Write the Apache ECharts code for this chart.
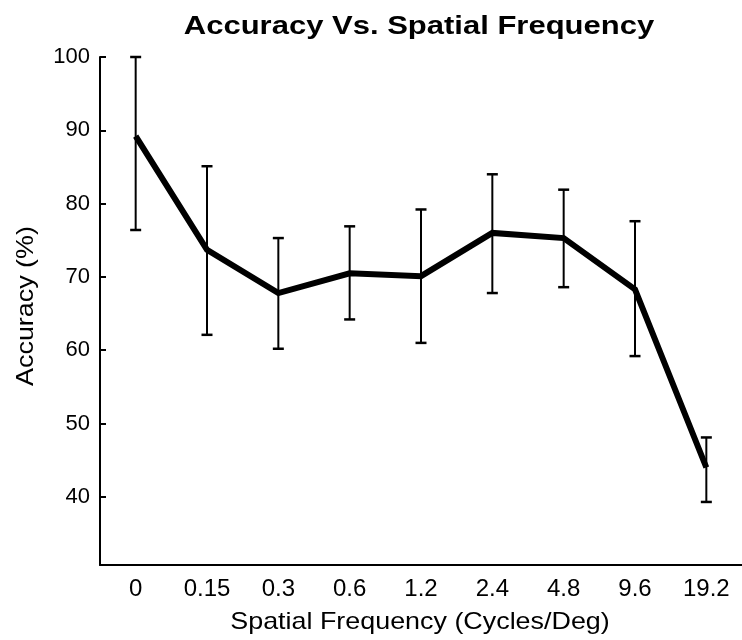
<!DOCTYPE html>
<html>
<head>
<meta charset="utf-8">
<script src="https://cdn.jsdelivr.net/npm/echarts@6/dist/echarts.min.js"></script>
<style>html,body{margin:0;padding:0;background:#fff;}#c{width:742px;height:640px;}</style>
</head>
<body>
<div id="c"></div>
<script>
const categories = ['0', '0.15', '0.3', '0.6', '1.2', '2.4', '4.8', '9.6', '19.2'];
const accuracy = [89.2, 73.7, 67.8, 70.5, 70.1, 76.0, 75.3, 68.3, 44.0];
const errUpper = [100, 85.1, 75.3, 76.9, 79.2, 84.0, 81.9, 77.6, 48.1];
const errLower = [76.4, 62.1, 60.2, 64.2, 61.0, 67.8, 68.6, 59.2, 39.3];
const yTicks = [40, 50, 60, 70, 80, 90, 100];
const yMin = 30.7;
const yMax = 100;
const titleText = 'Accuracy Vs. Spatial Frequency';
const xName = 'Spatial Frequency (Cycles/Deg)';
const yName = 'Accuracy (%)';

const errData = categories.map((c, i) => [i, errLower[i], errUpper[i]]);
const FONT = '"Liberation Sans", Arial, Helvetica, sans-serif';

const chart = echarts.init(document.getElementById('c'), null, {renderer: 'canvas'});
chart.setOption({
  backgroundColor: '#fff',
  animation: false,
  graphic: [
    {
      type: 'text', x: 419, y: 27, scaleX: 1.24,
      style: {text: titleText, font: 'bold 25px ' + FONT, fill: '#000', align: 'center', verticalAlign: 'middle'}
    },
    {
      type: 'text', x: 420, y: 622, scaleX: 1.12,
      style: {text: xName, font: '24px ' + FONT, fill: '#000', align: 'center', verticalAlign: 'middle'}
    },
    {
      type: 'text', x: 26, y: 306, scaleX: 1.12, rotation: Math.PI / 2,
      style: {text: yName, font: '24px ' + FONT, fill: '#000', align: 'center', verticalAlign: 'middle'}
    }
  ],
  grid: {left: 100, right: -4, top: 57, bottom: 75, containLabel: false},
  xAxis: {
    type: 'category',
    data: categories,
    boundaryGap: true,
    axisLine: {lineStyle: {color: '#000', width: 2}},
    axisTick: {inside: true, length: 6, alignWithLabel: true, lineStyle: {color: '#000', width: 2}},
    axisLabel: {fontFamily: FONT, fontSize: 24, color: '#000', margin: 12},
    splitLine: {show: false}
  },
  yAxis: {
    type: 'value',
    min: yMin, max: yMax,
    axisLine: {show: true, lineStyle: {color: '#000', width: 2}},
    axisTick: {show: true, inside: true, length: 6, customValues: yTicks, lineStyle: {color: '#000', width: 2}},
    axisLabel: {fontFamily: FONT, fontSize: 22, color: '#000', margin: 10, customValues: yTicks},
    splitLine: {show: false}
  },
  series: [
    {
      type: 'custom',
      data: errData,
      encode: {x: 0, y: [1, 2]},
      z: 3,
      renderItem: function (params, api) {
        const x = api.value(0);
        const lo = api.coord([x, api.value(1)]);
        const hi = api.coord([x, api.value(2)]);
        const hw = 5.5;
        return {
          type: 'group',
          children: [
            {type: 'line', shape: {x1: lo[0], y1: lo[1], x2: hi[0], y2: hi[1]}, style: {stroke: '#000', lineWidth: 2}},
            {type: 'line', shape: {x1: hi[0] - hw, y1: hi[1], x2: hi[0] + hw, y2: hi[1]}, style: {stroke: '#000', lineWidth: 2.5}},
            {type: 'line', shape: {x1: lo[0] - hw, y1: lo[1], x2: lo[0] + hw, y2: lo[1]}, style: {stroke: '#000', lineWidth: 2.5}}
          ]
        };
      }
    },
    {
      type: 'line',
      data: accuracy,
      symbol: 'none',
      z: 4,
      lineStyle: {color: '#000', width: 6, join: 'miter'}
    }
  ]
});
</script>
</body>
</html>
